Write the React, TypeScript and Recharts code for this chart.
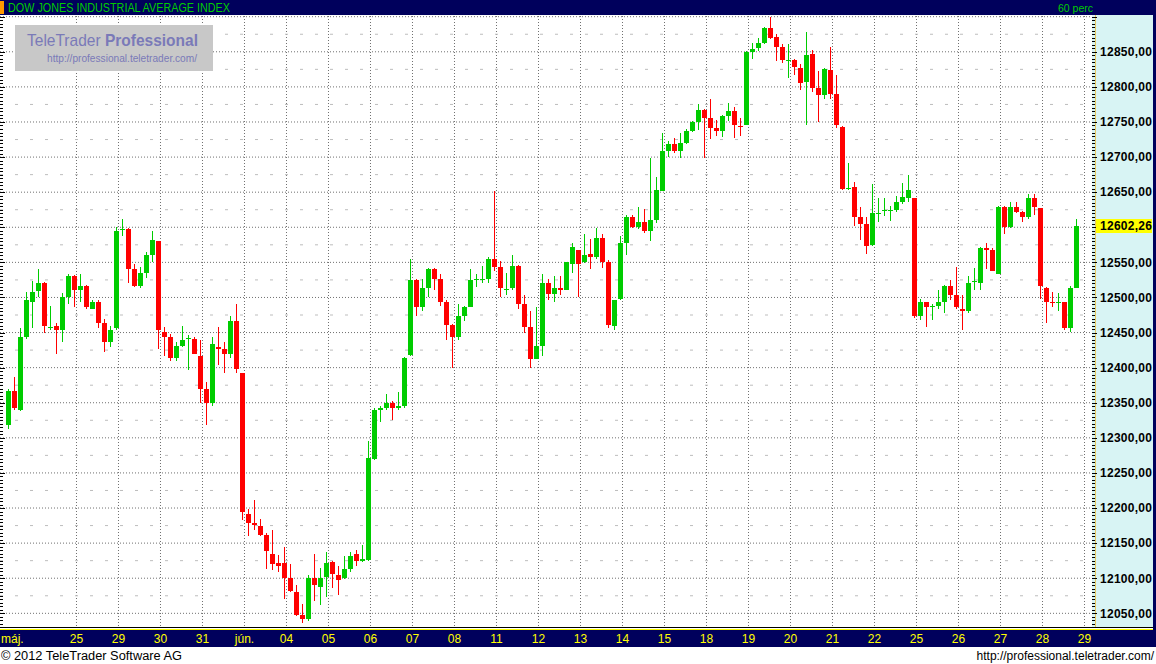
import React from 'react';
import { ComposedChart, Bar, XAxis, YAxis, CartesianGrid } from 'recharts';

// ---- DATA (hourly candles, 23 May partial ... 28 June 2012) ----
const opens = [
  12318, 12367, 12340, 12443, 12493, 12509, 12521, 12458, 12459, 12453, 12501,
  12531, 12511, 12517, 12484, 12493, 12464, 12436,
  12456, 12596, 12598, 12540, 12516, 12535, 12560,
  12580, 12451, 12444, 12414, 12431, 12441, 12441,
  12416, 12370, 12349, 12430, 12426, 12420, 12467,
  12392, 12192, 12178.5, 12175, 12161.5, 12135, 12121,
  12121, 12100, 12080, 12047, 12042, 12100, 12087,
  12102, 12123, 12105, 12100, 12113, 12134, 12124,
  12126, 12270, 12339, 12342, 12350, 12343, 12346,
  12418, 12525, 12487, 12514, 12540, 12527, 12494,
  12461, 12443, 12473, 12487, 12525, 12526.5, 12527,
  12555, 12544, 12512, 12513, 12545, 12491, 12458,
  12413, 12431, 12521, 12505, 12513, 12511, 12548,
  12567, 12550, 12562, 12557, 12585, 12550, 12460,
  12498, 12577, 12615, 12601, 12607, 12595, 12611,
  12652, 12709, 12718, 12709, 12720, 12737, 12750,
  12767, 12755, 12742, 12737, 12759, 12766, 12744.6,
  12746, 12850, 12856, 12863, 12884, 12871, 12857,
  12838.4, 12839, 12827, 12807, 12847, 12799, 12789,
  12824, 12790, 12743, 12656, 12658, 12615, 12604,
  12575, 12620.5, 12623, 12623.4, 12624, 12636, 12642,
  12641, 12473, 12493, 12486, 12488, 12494, 12517,
  12504, 12484, 12481, 12522, 12521, 12571, 12567,
  12534, 12629, 12600, 12629, 12622, 12614, 12641,
  12627, 12514, 12494.1, 12492.4, 12493, 12457, 12514,
];
const highs = [
  12369, 12386, 12456, 12508, 12523, 12540, 12522, 12488, 12464, 12507, 12533,
  12532, 12534, 12518, 12496, 12496, 12470, 12460,
  12600, 12612, 12599, 12548, 12544, 12565, 12595,
  12581, 12458, 12448, 12437, 12460, 12446, 12444,
  12439, 12379, 12443, 12458, 12436, 12473, 12491,
  12393, 12199, 12211, 12184, 12164, 12169, 12133,
  12144, 12120, 12091, 12063, 12104, 12134, 12115,
  12137, 12124, 12118, 12131, 12137, 12140, 12148,
  12296, 12342, 12346, 12362, 12353, 12365, 12415,
  12555, 12527, 12527, 12542, 12542, 12533, 12497,
  12462, 12490, 12488, 12540, 12533, 12545, 12557,
  12651, 12552, 12535, 12560, 12546, 12504, 12481,
  12486, 12534, 12527, 12530, 12530, 12551, 12578,
  12568, 12591, 12584, 12599, 12591, 12554, 12497,
  12588, 12617, 12618, 12629, 12626, 12699, 12672,
  12735, 12723, 12727, 12735, 12740, 12752, 12776,
  12768, 12783, 12753, 12760, 12777, 12772, 12755,
  12851, 12863, 12870, 12885, 12900, 12876, 12861,
  12861, 12840, 12833, 12878, 12853, 12823, 12827,
  12857, 12817, 12744, 12691, 12665, 12629, 12615,
  12661, 12642, 12642, 12631, 12645, 12663, 12675,
  12642, 12498, 12494, 12490, 12510, 12518, 12525,
  12544, 12504, 12531, 12542, 12572, 12577, 12571,
  12631, 12631, 12636, 12636, 12623, 12648, 12648,
  12628, 12515, 12508, 12506, 12494, 12516, 12612,
];
const lows = [
  12313, 12340, 12338, 12441, 12457, 12500, 12450, 12454, 12420, 12437, 12490,
  12486, 12494, 12483, 12483, 12456, 12423, 12430,
  12454, 12588, 12521, 12515, 12513, 12528, 12550,
  12427, 12416, 12409, 12410, 12430, 12397, 12419,
  12349, 12318, 12346, 12404, 12392, 12414, 12393,
  12183, 12160, 12169, 12160, 12113, 12112, 12109,
  12070, 12080, 12046, 12036, 12039, 12067, 12062,
  12073, 12086, 12076, 12099, 12109, 12117, 12123,
  12125, 12268, 12323, 12340, 12326, 12340, 12342,
  12417, 12473, 12480, 12501, 12511, 12488, 12440,
  12400, 12440, 12467, 12486, 12515, 12521, 12520,
  12537, 12501, 12504, 12511, 12484, 12449, 12399,
  12412, 12417, 12497, 12493, 12503, 12510, 12535,
  12500, 12549, 12540, 12555, 12542, 12457, 12454,
  12497, 12561, 12599, 12598, 12592, 12581, 12606,
  12651, 12700, 12706, 12698, 12719, 12736, 12739,
  12698, 12726, 12730, 12729, 12752, 12727, 12730,
  12745, 12840, 12851, 12861, 12868, 12837, 12834,
  12813, 12817, 12796, 12746, 12793, 12750, 12783,
  12783, 12742, 12653, 12653, 12602, 12582, 12562,
  12574, 12608, 12616, 12609, 12622, 12633, 12636,
  12471, 12468, 12458, 12468, 12484, 12478, 12497,
  12484, 12453, 12478, 12510, 12510, 12540, 12537,
  12534, 12591, 12599, 12621, 12608, 12612, 12618,
  12498, 12463, 12486, 12481, 12454, 12451, 12513,
];
const closes = [
  12367, 12342, 12443, 12497, 12508, 12521, 12459, 12458.6, 12453, 12501, 12531,
  12511, 12517, 12486, 12493, 12464, 12436, 12454,
  12595, 12597, 12540, 12516, 12535, 12560, 12582,
  12454, 12443, 12414, 12431, 12439, 12441.6, 12420,
  12370, 12349, 12433, 12426, 12420, 12467, 12398,
  12194, 12178.5, 12176, 12161.5, 12139, 12120, 12117,
  12100, 12082, 12048, 12042, 12101, 12090, 12101,
  12121, 12106, 12097, 12113, 12132, 12124, 12128,
  12271, 12340, 12342, 12349, 12343, 12346, 12414,
  12525, 12486, 12514, 12540, 12527, 12494, 12461,
  12444, 12473, 12487, 12525, 12525.6, 12527, 12555,
  12544, 12513, 12512.6, 12545, 12491, 12458, 12413,
  12431, 12521, 12505, 12513, 12511, 12550, 12572,
  12548, 12561, 12557, 12585, 12550, 12461, 12496,
  12577, 12615, 12601, 12607, 12595, 12611, 12653,
  12709, 12718, 12709, 12720, 12737, 12750, 12767,
  12755, 12742, 12737, 12759, 12766, 12745, 12744,
  12849, 12854, 12863, 12884, 12870, 12857, 12839,
  12839, 12829, 12806, 12846, 12799, 12789, 12826,
  12790, 12745, 12655, 12656.6, 12615, 12604, 12574,
  12621, 12621, 12624, 12624, 12636, 12643.5, 12653,
  12473, 12493, 12486, 12488.5, 12494, 12517, 12504,
  12486, 12480, 12521, 12523, 12571, 12567, 12537,
  12629, 12600, 12629, 12622, 12615, 12641, 12629,
  12516, 12494, 12493.6, 12492.9, 12457, 12514, 12602.26,
];

const monthLabel = 'máj.';
const dayLabels = ['25', '29', '30', '31', 'jún.', '04', '05', '06', '07', '08', '11', '12', '13', '14', '15', '18', '19', '20', '21', '22', '25', '26', '27', '28', '29'];
const priceLabels = [12050, 12100, 12150, 12200, 12250, 12300, 12350, 12400, 12450, 12500, 12550, 12600, 12650, 12700, 12750, 12800, 12850];
const gridPrices = [...priceLabels, 12900];
const halfPrices = [12075, 12125, 12175, 12225, 12275, 12325, 12375, 12425, 12475, 12525, 12575, 12625, 12675, 12725, 12775, 12825, 12875];
const lastPrice = 12602.26;

const FIRST_DAY_BAR = 11;
const BARS_PER_DAY = 7;

const data = opens.map((o, i) => ({
  k: i,
  o,
  h: highs[i],
  l: lows[i],
  c: closes[i],
  range: [lows[i], highs[i]],
}));

const dayTickValues = dayLabels.map((_, j) => FIRST_DAY_BAR + BARS_PER_DAY * j + 1 / 6);
const xTicks = [0, ...dayTickValues];
const xTickLabels = [monthLabel, ...dayLabels];

const rulerTicks: number[] = [];
for (let v = 12035; v <= 12900; v += 5) rulerTicks.push(v);
const yTicks = [...rulerTicks, lastPrice];

const FONT = "'Liberation Sans', Arial, Helvetica, sans-serif";
const NAVY = '#00005c';
const GREEN = '#00cc00';
const RED = '#ff0000';

const fmt = (v: number) => v.toFixed(2).replace('.', ',');

const Candle = (props: any) => {
  const { x, y, width, height, payload } = props;
  if (!payload || !isFinite(x) || !isFinite(y) || !isFinite(height)) return null;
  const { o, h, l, c } = payload;
  const top = Math.min(y, y + height);
  const span = Math.abs(height);
  const ppp = h - l > 0 ? span / (h - l) : 0;
  const py = (v: number) => top + (h - v) * ppp;
  const cx = Math.floor(x + width / 2) + 0.5;
  const color = c >= o ? GREEN : RED;
  const bTop = Math.round(py(Math.max(o, c)));
  let bBot = Math.round(py(Math.min(o, c)));
  if (bBot - bTop < 1) bBot = bTop + 1;
  return (
    <g>
      <line x1={cx} x2={cx} y1={Math.round(py(h))} y2={Math.round(py(l))} stroke={color} strokeWidth={1} />
      <rect x={cx - 2.5} y={bTop} width={5} height={bBot - bTop} fill={color} />
    </g>
  );
};

const XTick = (props: any) => {
  const { x, y, payload } = props;
  const idx = xTicks.findIndex((t) => Math.abs(t - payload.value) < 1e-6);
  const label = idx >= 0 ? xTickLabels[idx] : '';
  const isMonthStart = idx === 0;
  return (
    <text
      x={isMonthStart ? 1 : x}
      y={y + 16}
      textAnchor={isMonthStart ? 'start' : 'middle'}
      fill="#ffff00"
      fontSize={12}
      fontFamily={FONT}
    >
      {label}
    </text>
  );
};

const YTick = (props: any) => {
  const { x, y, payload } = props;
  const v = payload.value;
  const yy = Math.round(y) + 0.5;
  if (v === lastPrice) {
    return (
      <g>
        <rect x={1096} y={Math.round(y) - 7} width={56} height={14} fill="#ffff00" />
        <text x={x} y={y} dy="0.36em" fontSize={12} fontWeight="bold" fontFamily={FONT} fill="#000" textLength={52} lengthAdjust="spacing">
          {fmt(v)}
        </text>
      </g>
    );
  }
  const major = v % 50 === 0;
  const showLabel = priceLabels.includes(v) && Math.abs(v - lastPrice) > 20;
  return (
    <g>
      <line x1={0} x2={major ? 5 : 3} y1={yy} y2={yy} stroke="#000" strokeWidth={1} />
      <line x1={1092} x2={major ? 1097 : 1095} y1={yy} y2={yy} stroke="#000" strokeWidth={1} />
      {showLabel && (
        <text x={x} y={y} dy="0.36em" fontSize={12} fontWeight="bold" fontFamily={FONT} fill="#000" textLength={52} lengthAdjust="spacing">
          {fmt(v)}
        </text>
      )}
    </g>
  );
};

export default function App() {
  return (
    <div style={{ position: 'absolute', left: 0, top: 0, width: 1156, height: 664, background: '#ffffff', overflow: 'hidden', fontFamily: FONT }}>
      {/* frame pieces */}
      <div style={{ position: 'absolute', left: 0, top: 0, width: 1156, height: 15, background: NAVY }} />
      <div style={{ position: 'absolute', left: 1092, top: 15, width: 61, height: 612, background: '#d8f4f4' }} />
      <div style={{ position: 'absolute', left: 1095, top: 15, width: 1, height: 612, background: '#e8c860' }} />
      <div style={{ position: 'absolute', left: 1153, top: 0, width: 3, height: 647, background: NAVY }} />
      <div style={{ position: 'absolute', left: 0, top: 627, width: 1153, height: 1, background: '#000' }} />
      <div style={{ position: 'absolute', left: 0, top: 629, width: 1153, height: 1, background: '#ffff00' }} />
      <div style={{ position: 'absolute', left: 0, top: 630, width: 1156, height: 17, background: NAVY }} />

      <div style={{ position: 'absolute', left: 0, top: 0 }}>
        <ComposedChart width={1156} height={664} data={data} margin={{ top: 16, right: 0, bottom: 17, left: 0 }}>
          <CartesianGrid
            horizontalValues={gridPrices}
            verticalValues={dayTickValues}
            stroke="#707070"
            strokeDasharray="1 2"
          />
          <CartesianGrid horizontalValues={halfPrices} vertical={false} stroke="#bdbdbd" strokeDasharray="3 12" />
          <XAxis
            dataKey="k"
            type="number"
            domain={[-1.58333, 180.41667]}
            ticks={xTicks}
            interval={0}
            allowDataOverflow
            height={20}
            tickLine={false}
            axisLine={false}
            tickSize={0}
            tickMargin={0}
            tick={<XTick />}
          />
          <YAxis
            orientation="right"
            type="number"
            domain={[12030.5, 12901]}
            ticks={yTicks}
            interval={0}
            allowDataOverflow
            width={64}
            tickLine={false}
            axisLine={false}
            tickSize={0}
            tickMargin={8}
            tick={<YTick />}
          />
          <Bar dataKey="range" shape={<Candle />} barSize={5} isAnimationActive={false} />
        </ComposedChart>
      </div>

      {/* texts and watermark */}
      <svg width={1156} height={664} style={{ position: 'absolute', left: 0, top: 0, pointerEvents: 'none' }}>
        <rect x={0} y={1} width={4} height={13} fill="#ff9900" />
        <text x={8} y={12} fontSize={12} fontFamily={FONT} fill="#00cc00" textLength={222} lengthAdjust="spacingAndGlyphs">
          DOW JONES INDUSTRIAL AVERAGE INDEX
        </text>
        <text x={1058} y={12} fontSize={11} fontFamily={FONT} fill="#00cc00" textLength={35} lengthAdjust="spacingAndGlyphs">
          60 perc
        </text>
        <rect x={15} y={25} width={198} height={46} fill="#c8c8c8" />
        <text x={27} y={46} fontSize={17} fontFamily={FONT} fill="#7a7ab8" textLength={171} lengthAdjust="spacingAndGlyphs">
          TeleTrader <tspan fontWeight="bold">Professional</tspan>
        </text>
        <text x={47} y={62} fontSize={10} fontFamily={FONT} fill="#7a7ab8" textLength={150} lengthAdjust="spacingAndGlyphs">
          http://professional.teletrader.com/
        </text>
        <text x={1} y={660} fontSize={12} fontFamily={FONT} fill="#000" textLength={181} lengthAdjust="spacingAndGlyphs">
          © 2012 TeleTrader Software AG
        </text>
        <text x={1154} y={660} fontSize={12} fontFamily={FONT} fill="#000" textAnchor="end">
          http://professional.teletrader.com/
        </text>
      </svg>
    </div>
  );
}
